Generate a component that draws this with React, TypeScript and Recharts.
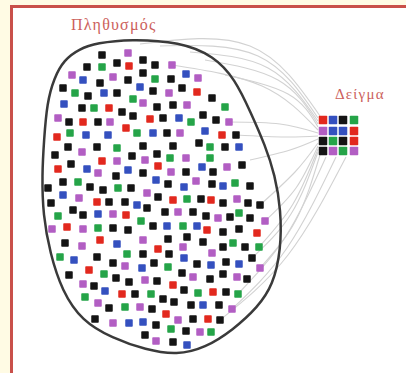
import React from "react";
import { ScatterChart, Scatter, XAxis, YAxis } from "recharts";

type Pt = [number, number];

// population squares, grouped by colour
const blackSquares: Pt[] = [
  [102, 55], [87, 67], [117, 63], [143, 60], [155, 65], [100, 83], [128, 80], [143, 73],
  [63, 88], [88, 96], [117, 93], [153, 91], [82, 108], [122, 112], [133, 116], [157, 107],
  [69, 122], [98, 122], [171, 79], [182, 88], [212, 98], [173, 105], [163, 118], [203, 115],
  [216, 120], [167, 133], [236, 135], [173, 146], [199, 143], [68, 147], [97, 147], [143, 146],
  [225, 147], [55, 155], [132, 156], [157, 154], [71, 164], [186, 172], [213, 172],
  [242, 165], [143, 173], [116, 176], [63, 182], [168, 184], [212, 184], [250, 186], [90, 187],
  [131, 188], [103, 190], [48, 188], [158, 197], [201, 199], [223, 203], [248, 203], [260, 205],
  [109, 202], [125, 202], [51, 203], [73, 210], [83, 215], [147, 208], [165, 212], [193, 212],
  [206, 216], [230, 217], [250, 218], [113, 228], [128, 230], [153, 226], [223, 232], [239, 229],
  [187, 237], [65, 243], [168, 239], [203, 242], [223, 247], [245, 247], [143, 254], [169, 254],
  [97, 257], [113, 263], [154, 263], [197, 264], [226, 262], [252, 258], [69, 275], [116, 278],
  [129, 282], [157, 281], [182, 273], [210, 279], [223, 274], [247, 279], [94, 286], [184, 290],
  [135, 294], [163, 299], [174, 302], [226, 292], [109, 308], [152, 309], [191, 305], [219, 305],
  [193, 319], [220, 320], [95, 319], [156, 325], [186, 331], [145, 335], [173, 342],
];

const greenSquares: Pt[] = [
  [102, 67], [155, 79], [75, 93], [133, 99], [94, 108], [70, 133], [137, 133], [225, 107],
  [191, 122], [210, 147], [117, 148], [210, 158], [170, 158], [78, 182], [235, 183], [118, 188],
  [187, 199], [239, 213], [58, 216], [141, 221], [98, 228], [183, 226], [233, 243], [259, 247],
  [127, 254], [60, 257], [168, 267], [104, 274], [151, 294], [198, 293], [238, 294], [85, 297],
  [125, 307], [171, 329], [211, 332],
];

const redSquares: Pt[] = [
  [129, 66], [109, 108], [83, 122], [126, 128], [150, 119], [57, 137], [197, 92], [222, 135],
  [102, 161], [58, 169], [158, 166], [173, 200], [211, 200], [97, 202], [126, 215], [67, 227],
  [207, 230], [257, 233], [100, 240], [158, 249], [89, 270], [173, 285], [122, 294], [213, 292],
  [166, 314], [208, 319],
];

const blueSquares: Pt[] = [
  [83, 80], [104, 93], [140, 87], [64, 104], [86, 135], [108, 135], [153, 133], [186, 74],
  [179, 118], [205, 131], [239, 147], [87, 169], [128, 170], [202, 167], [156, 180], [223, 186],
  [184, 187], [63, 195], [137, 205], [98, 214], [167, 226], [197, 226], [117, 244], [74, 260],
  [142, 268], [184, 258], [211, 265], [239, 264], [105, 291], [203, 305], [129, 323], [143, 322],
  [187, 345],
];

const purpleSquares: Pt[] = [
  [128, 53], [72, 75], [113, 77], [143, 103], [58, 118], [110, 122], [172, 65], [198, 78],
  [169, 93], [187, 105], [229, 122], [180, 133], [82, 152], [186, 158], [117, 161], [145, 160],
  [98, 173], [171, 172], [227, 167], [196, 181], [147, 193], [79, 198], [237, 199], [113, 214],
  [178, 212], [218, 218], [265, 221], [52, 229], [83, 229], [143, 240], [82, 246], [183, 247],
  [212, 253], [125, 266], [260, 268], [145, 280], [193, 277], [237, 277], [83, 284], [98, 303],
  [140, 307], [232, 309], [178, 320], [113, 323], [200, 332], [156, 341],
];

// the 4x4 sample
const sampleCells: [number, number, string][] = [
  [323, 120, "red"], [333, 120, "blue"], [343, 120, "black"], [354, 120, "green"],
  [323, 131, "purple"], [333, 131, "blue"], [343, 131, "blue"], [354, 131, "red"],
  [323, 141, "black"], [333, 141, "green"], [343, 141, "black"], [354, 141, "red"],
  [323, 151, "black"], [333, 151, "purple"], [343, 151, "green"], [354, 151, "purple"],
];

// outline of the population
const blobOutline: Pt[] = [
  [130, 39], [180, 42], [214, 56], [235, 79], [251, 113], [265, 145], [275, 175], [281, 210],
  [281, 250], [273, 285], [258, 307], [233, 330], [205, 348], [177, 355], [146, 350], [112, 338],
  [82, 321], [62, 291], [50, 253], [43, 215], [42, 175], [44, 140], [47, 103], [54, 78],
  [64, 60], [79, 49], [97, 43],
];

// sample lines: from, via, to
const connectors: [Pt, Pt, Pt][] = [
  [[140, 44], [250, 46], [320, 116]],
  [[160, 46], [258, 56], [318, 118]],
  [[190, 52], [268, 68], [318, 121]],
  [[205, 60], [278, 80], [318, 124]],
  [[225, 75], [288, 94], [318, 127]],
  [[172, 65], [262, 86], [318, 130]],
  [[229, 122], [280, 124], [318, 133]],
  [[236, 135], [285, 137], [318, 136]],
  [[250, 160], [290, 150], [318, 139]],
  [[260, 205], [295, 172], [318, 143]],
  [[265, 221], [296, 188], [318, 146]],
  [[259, 247], [293, 204], [318, 149]],
  [[252, 258], [291, 214], [318, 152]],
  [[260, 268], [296, 220], [320, 155]],
  [[238, 294], [286, 236], [326, 157]],
  [[232, 309], [287, 248], [336, 157]],
  [[220, 320], [288, 255], [346, 157]],
];

const colors: Record<string, string> = {
  black: "#141414",
  green: "#25a448",
  red: "#e2281e",
  blue: "#3450bf",
  purple: "#b25ec3",
};

const toXY = (pts: Pt[]) => pts.map(([x, y]) => ({ x, y }));

const square = (size: number, fill: string) => (props: any) => {
  const { cx, cy } = props;
  if (cx == null || cy == null) return <g />;
  return <rect x={cx - size / 2} y={cy - size / 2} width={size} height={size} rx={0.8} fill={fill} />;
};

const nothing = () => <g />;

const groups: [string, Pt[]][] = [
  ["black", blackSquares],
  ["green", greenSquares],
  ["red", redSquares],
  ["blue", blueSquares],
  ["purple", purpleSquares],
];

const App: React.FC = () => {
  return (
    <div
      style={{
        position: "absolute",
        left: 0,
        top: 0,
        width: 406,
        height: 373,
        background: "#fffbe4",
        overflow: "hidden",
      }}
    >
      {/* red frame */}
      <div
        style={{
          position: "absolute",
          left: 10,
          top: 5,
          width: 420,
          height: 400,
          border: "3px solid #c9504a",
          background: "#ffffff",
        }}
      />

      <div style={{ position: "absolute", left: 0, top: 0 }}>
        <ScatterChart width={406} height={373} margin={{ top: 0, right: 0, bottom: 0, left: 0 }}>
          <XAxis type="number" dataKey="x" domain={[0, 406]} allowDataOverflow hide />
          <YAxis type="number" dataKey="y" domain={[0, 373]} allowDataOverflow reversed hide />

          {/* grey lines to the sample */}
          {connectors.map((c, i) => (
            <Scatter
              key={"c" + i}
              data={toXY(c)}
              shape={nothing}
              line={{ stroke: "#d2d2d2", strokeWidth: 1.1, fill: "none" }}
              lineJointType="natural"
              isAnimationActive={false}
            />
          ))}

          {/* population outline */}
          <Scatter
            data={toXY(blobOutline)}
            shape={nothing}
            line={{ stroke: "#3a3a3a", strokeWidth: 2.5, fill: "none" }}
            lineJointType="basisClosed"
            isAnimationActive={false}
          />

          {groups.map(([name, pts]) => (
            <Scatter
              key={name}
              name={name}
              data={toXY(pts)}
              shape={square(7.5, colors[name])}
              isAnimationActive={false}
            />
          ))}

          {groups.map(([name]) => (
            <Scatter
              key={"s" + name}
              data={sampleCells.filter((s) => s[2] === name).map(([x, y]) => ({ x, y }))}
              shape={square(8.5, colors[name])}
              isAnimationActive={false}
            />
          ))}
        </ScatterChart>
      </div>

      <div
        style={{
          position: "absolute",
          left: 71,
          top: 16,
          fontFamily: "'Liberation Serif', serif",
          fontSize: 16,
          color: "#cc615c",
          letterSpacing: 1.2,
          whiteSpace: "nowrap",
        }}
      >
        Πληθυσμός
      </div>
      <div
        style={{
          position: "absolute",
          left: 335,
          top: 86,
          fontFamily: "'Liberation Serif', serif",
          fontSize: 15,
          color: "#cc615c",
          letterSpacing: 1.2,
          whiteSpace: "nowrap",
        }}
      >
        Δείγμα
      </div>
    </div>
  );
};

export default App;
